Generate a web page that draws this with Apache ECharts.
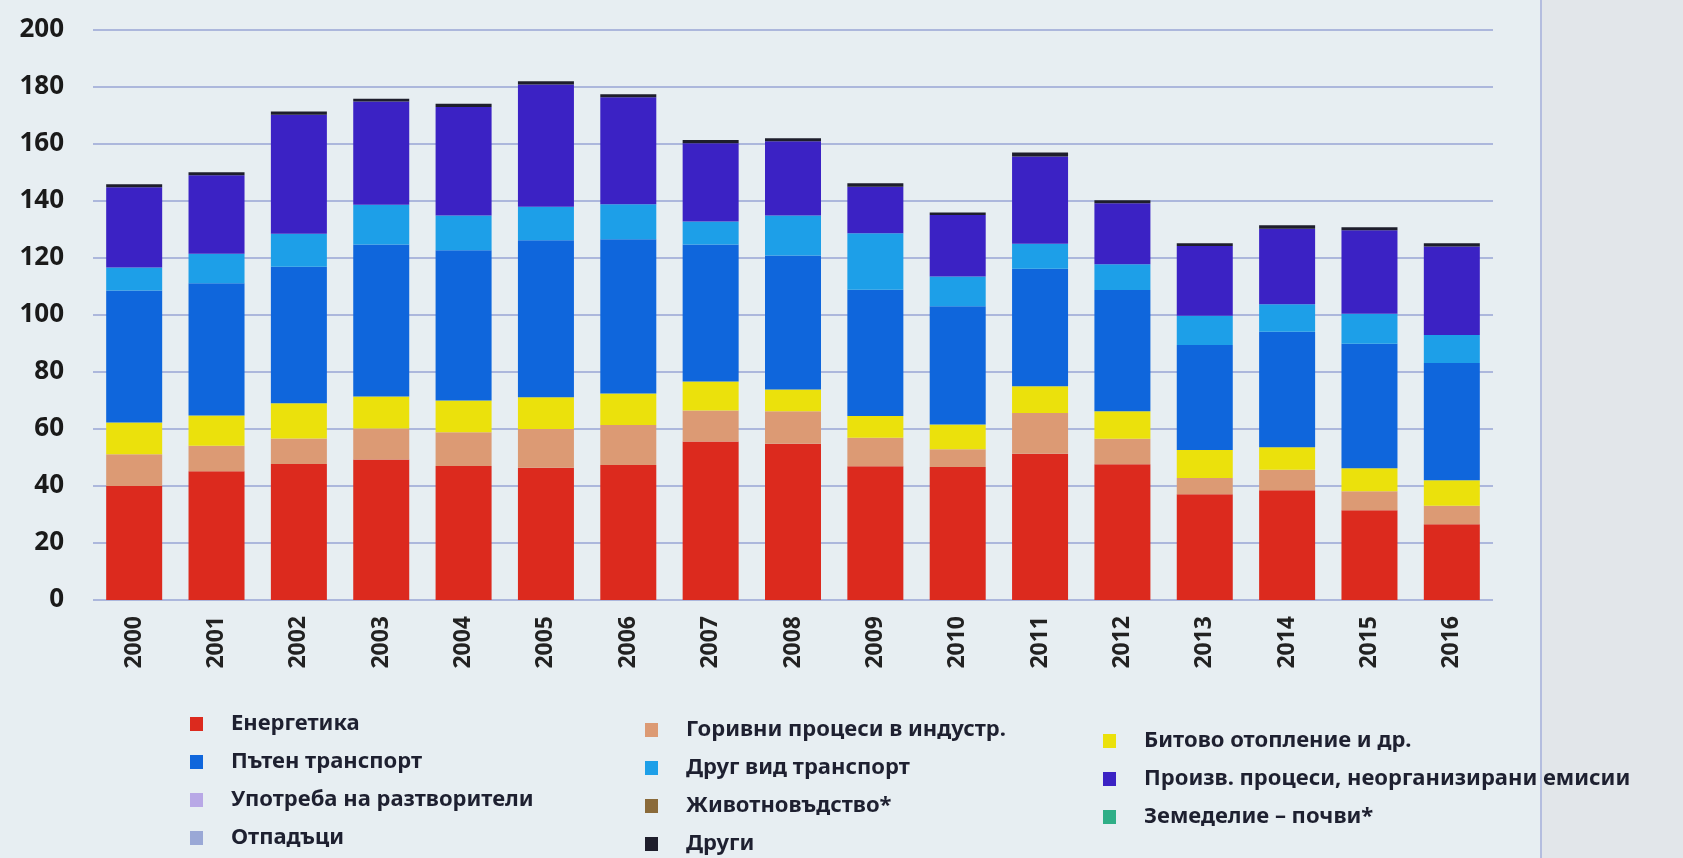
<!DOCTYPE html>
<html>
<head>
<meta charset="utf-8">
<script src="https://cdn.jsdelivr.net/npm/echarts@6/dist/echarts.min.js"></script>
<style>
  html, body { margin: 0; padding: 0; background: #e7eef2; }
  #chart { width: 1683px; height: 858px; }
</style>
</head>
<body>
<div id="chart"></div>
<script>
const years = ["2000", "2001", "2002", "2003", "2004", "2005", "2006", "2007", "2008",
  "2009", "2010", "2011", "2012", "2013", "2014", "2015", "2016"];

const energetika = [40.0, 45.2, 47.7, 49.3, 47.0, 46.4, 47.4, 55.6, 54.8, 46.9, 46.7, 51.3, 47.6, 37.1, 38.5, 31.5, 26.6];
const industry = [11.1, 8.9, 9.0, 10.9, 11.9, 13.6, 14.0, 10.9, 11.4, 10.0, 6.2, 14.3, 9.0, 5.7, 7.2, 6.7, 6.5];
const domestic = [11.2, 10.6, 12.3, 11.2, 11.1, 11.1, 11.1, 10.2, 7.7, 7.7, 8.7, 9.4, 9.6, 9.8, 7.9, 8.0, 8.9];
const road = [46.3, 46.4, 47.9, 53.3, 52.7, 55.1, 54.1, 48.0, 47.0, 44.3, 41.5, 41.2, 42.6, 36.9, 40.5, 43.7, 41.2];
const otherTransport = [8.1, 10.4, 11.6, 14.0, 12.2, 11.8, 12.3, 8.1, 14.0, 19.8, 10.4, 8.8, 9.0, 10.2, 9.7, 10.5, 9.8];
const processes = [28.1, 27.5, 41.8, 36.2, 38.1, 42.9, 37.5, 27.5, 26.1, 16.3, 21.6, 30.6, 21.4, 24.5, 26.5, 29.3, 31.0];
const solvents = [0, 0, 0, 0, 0, 0, 0, 0, 0, 0, 0, 0, 0, 0, 0, 0, 0];
const livestock = [0, 0, 0, 0, 0, 0, 0, 0, 0, 0, 0, 0, 0, 0, 0, 0, 0];
const soils = [0, 0, 0, 0, 0, 0, 0, 0, 0, 0, 0, 0, 0, 0, 0, 0, 0];
const waste = [0, 0, 0, 0, 0, 0, 0, 0, 0, 0, 0, 0, 0, 0, 0, 0, 0];
const others = [1.1, 1.1, 1.1, 1.0, 1.1, 1.1, 1.1, 1.1, 1.0, 1.2, 0.9, 1.4, 1.1, 1.0, 1.2, 1.1, 1.2];

const yTicks = [0, 200, 20];

const seriesDefs = [
  { name: "Енергетика", data: energetika, color: "#dc2a1e" },
  { name: "Горивни процеси в индустр.", data: industry, color: "#dc9a74" },
  { name: "Битово отопление и др.", data: domestic, color: "#ebe10c" },
  { name: "Пътен транспорт", data: road, color: "#0f66dc" },
  { name: "Друг вид транспорт", data: otherTransport, color: "#1d9fe8" },
  { name: "Произв. процеси, неорганизирани емисии", data: processes, color: "#3b22c4" },
  { name: "Употреба на разтворители", data: solvents, color: "#b8a8e6" },
  { name: "Животновъдство*", data: livestock, color: "#8a6a3a" },
  { name: "Земеделие – почви*", data: soils, color: "#2fae87" },
  { name: "Отпадъци", data: waste, color: "#9aa8d6" },
  { name: "Други", data: others, color: "#1e1e2c" }
];

const legendText = { color: "#1e2030", fontSize: 22, lineHeight: 24, fontWeight: "bold", fontFamily: "Noto Sans" };
function legendCol(names, left, top) {
  return {
    orient: "vertical",
    left: left,
    top: top,
    padding: 0,
    data: names,
    itemWidth: 13,
    itemHeight: 14,
    itemGap: 14,
    icon: "rect",
    textStyle: Object.assign({ padding: [0, 0, 0, 23] }, legendText)
  };
}

const chart = echarts.init(document.getElementById("chart"));

const option = {
  backgroundColor: "#e7eef2",
  animation: false,
  graphic: [
    { type: "rect", left: 1542, top: 0, shape: { width: 141, height: 858 }, style: { fill: "#e2e6ea" }, silent: true },
    { type: "line", shape: { x1: 1541, y1: 0, x2: 1541, y2: 858 }, style: { stroke: "#a3acd8", lineWidth: 1.5 }, silent: true }
  ],
  grid: { left: 93, top: 30, width: 1400, height: 570 },
  legend: [
    legendCol(["Енергетика", "Пътен транспорт", "Употреба на разтворители", "Отпадъци"], 190, 712),
    legendCol(["Горивни процеси в индустр.", "Друг вид транспорт", "Животновъдство*", "Други"], 645, 718),
    legendCol(["Битово отопление и др.", "Произв. процеси, неорганизирани емисии", "Земеделие – почви*"], 1103, 729)
  ],
  xAxis: {
    type: "category",
    data: years,
    axisLine: { show: false },
    axisTick: { show: false },
    axisLabel: {
      rotate: 90,
      margin: 16,
      color: "#222",
      fontSize: 23,
      fontWeight: "bold",
      fontFamily: "Noto Sans"
    }
  },
  yAxis: {
    type: "value",
    min: yTicks[0],
    max: yTicks[1],
    interval: yTicks[2],
    axisLine: { show: false },
    axisTick: { show: false },
    splitLine: { lineStyle: { color: "#98a4d4", width: 1.5 } },
    axisLabel: {
      margin: 29,
      color: "#1a1a1a",
      fontSize: 26,
      fontWeight: "bold",
      fontFamily: "Noto Sans"
    }
  },
  series: seriesDefs.map(s => ({
    name: s.name,
    type: "bar",
    stack: "total",
    barWidth: "68%",
    data: s.data,
    itemStyle: { color: s.color }
  }))
};

chart.setOption(option);
</script>
</body>
</html>
